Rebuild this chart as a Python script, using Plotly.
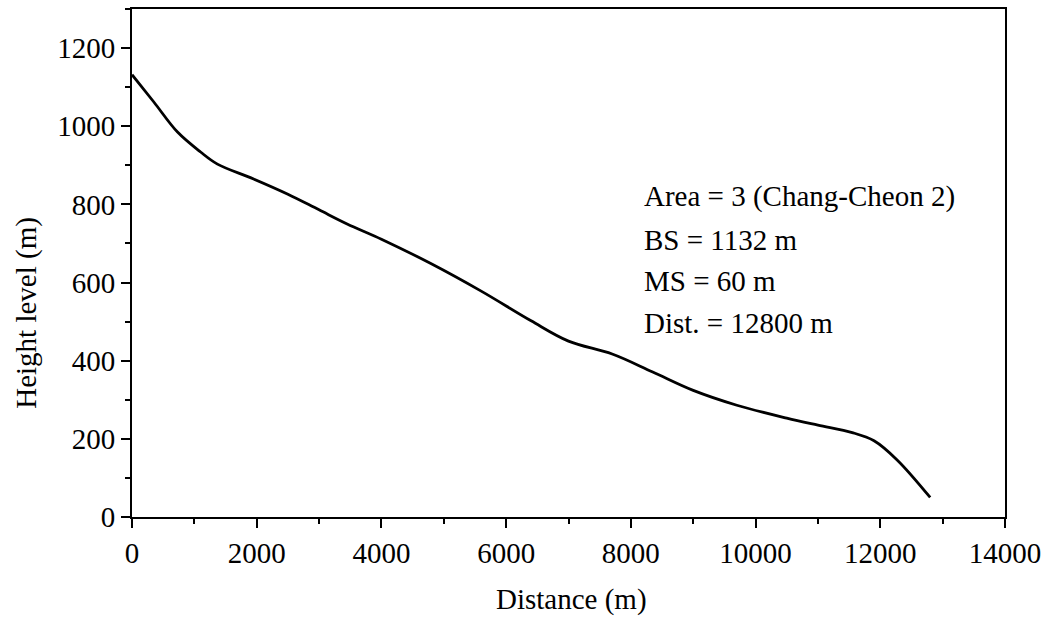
import plotly.graph_objects as go

distance = [0, 350, 730, 1100, 1370, 1950, 2500, 3000, 3450, 4000, 4800, 5600,
            6400, 7000, 7700, 8350, 9000, 9700, 10500, 11000, 11550, 11900, 12270, 12800]
height = [1132, 1062, 985, 934, 903, 865, 826, 786, 750, 711, 648, 578,
          502, 450, 417, 371, 324, 286, 253, 235, 216, 195, 146, 50]

info_lines = ["Area = 3 (Chang-Cheon 2)", "BS = 1132 m", "MS = 60 m", "Dist. = 12800 m"]
info_y = [819, 710, 604, 497]

FONT = "Liberation Serif"
fig = go.Figure()
fig.add_trace(go.Scatter(x=distance, y=height, mode="lines",
                         line=dict(color="black", width=2.8, shape="spline", smoothing=1.0),
                         showlegend=False))

for t, yy in zip(info_lines, info_y):
    fig.add_annotation(x=8180, y=yy, xref="x", yref="y", text=t, showarrow=False,
                       xanchor="left", yanchor="middle",
                       font=dict(family=FONT, size=29, color="black"))

fig.add_annotation(x=0.503, y=-0.163, xref="paper", yref="paper", text="Distance (m)",
                   showarrow=False, xanchor="center", yanchor="middle",
                   font=dict(family=FONT, size=29, color="black"))
fig.add_annotation(x=-0.1203, y=0.402, xref="paper", yref="paper", text="Height level (m)",
                   showarrow=False, textangle=-90, xanchor="center", yanchor="middle",
                   font=dict(family=FONT, size=29, color="black"))

axis_common = dict(showgrid=False, zeroline=False, showline=True, linecolor="black",
                   linewidth=2, mirror=True, ticks="outside", tickcolor="black",
                   tickwidth=2, ticklen=9, tickformat="d",
                   tickfont=dict(family=FONT, size=29, color="black"))

fig.update_xaxes(range=[0, 14000], tickmode="linear", tick0=0, dtick=2000,
                 minor=dict(dtick=1000, ticklen=5, tickwidth=2, tickcolor="black", ticks="outside"),
                 **axis_common)
fig.update_yaxes(range=[0, 1300], tickmode="linear", tick0=0, dtick=200,
                 minor=dict(dtick=100, ticklen=5, tickwidth=2, tickcolor="black", ticks="outside"),
                 **axis_common)

fig.update_layout(width=1052, height=626, plot_bgcolor="white", paper_bgcolor="white",
                  margin=dict(l=132, r=47, t=7, b=109), autosize=False)

fig.write_html("out.html")
